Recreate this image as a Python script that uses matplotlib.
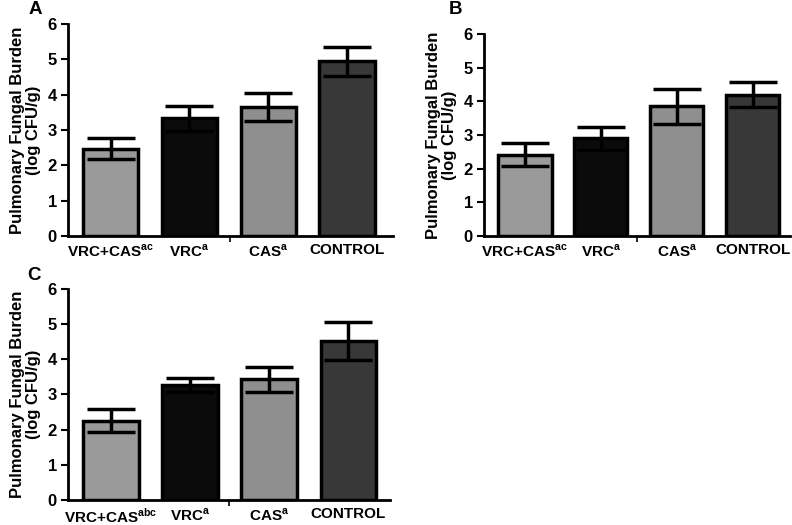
import numpy as np
import matplotlib
matplotlib.use("Agg")
import matplotlib.pyplot as plt

plt.rcParams['font.family'] = ['Liberation Sans', 'DejaVu Sans']
plt.rcParams['font.weight'] = 'bold'
plt.rcParams['mathtext.fontset'] = 'custom'
plt.rcParams['mathtext.bf'] = 'Liberation Sans:bold'
plt.rcParams['mathtext.rm'] = 'Liberation Sans:bold'

groups_ab = [r'VRC+CAS$^{\mathbf{ac}}$', r'VRC$^{\mathbf{a}}$', r'CAS$^{\mathbf{a}}$', 'CONTROL']
groups_c = [r'VRC+CAS$^{\mathbf{abc}}$', r'VRC$^{\mathbf{a}}$', r'CAS$^{\mathbf{a}}$', 'CONTROL']
colors = ['#9a9a9a', '#0b0b0b', '#8f8f8f', '#383838']

mean_a = [2.47, 3.33, 3.65, 4.95]
err_a = [0.30, 0.36, 0.39, 0.41]
mean_b = [2.42, 2.90, 3.85, 4.20]
err_b = [0.33, 0.33, 0.53, 0.38]
mean_c = [2.25, 3.27, 3.43, 4.52]
err_c = [0.33, 0.21, 0.35, 0.54]

fig = plt.figure(figsize=(7.92, 5.25), dpi=100)

panels = [
    ('A', mean_a, err_a, groups_ab, [0.0859, 0.5505, 0.410, 0.4035], (-0.54, 3.58), (35, 9)),
    ('B', mean_b, err_b, groups_ab, [0.611, 0.5505, 0.3865, 0.3845], (-0.54, 3.49), (455, 10)),
    ('C', mean_c, err_c, groups_c, [0.0859, 0.0476, 0.406, 0.402], (-0.54, 3.52), (34, 276)),
]

for letter, means, errs, labels, rect, xl, lpos in panels:
    ax = fig.add_axes(rect)
    x = np.arange(len(means))
    ax.bar(x, means, width=0.7, color=colors, edgecolor='black', linewidth=2.5, zorder=2)
    ax.errorbar(x, means, yerr=errs, fmt='none', ecolor='black', elinewidth=2.5,
                capsize=17, capthick=2.5, zorder=3)
    ax.set_xlim(*xl)
    ax.set_ylim(0, 6)
    ax.set_yticks(range(7))
    ax.set_xticks(x)
    ax.set_xticklabels(labels, fontsize=11, fontweight='bold')
    ax.tick_params(axis='x', which='major', length=0, pad=5)
    ax.set_xticks([(xl[0] + xl[1]) / 2], minor=True)
    ax.tick_params(axis='x', which='minor', length=4, width=1.2, direction='out')
    ax.tick_params(axis='y', length=5, width=1.5, labelsize=12, pad=3)
    for t in ax.get_yticklabels():
        t.set_fontweight('bold')
    for s in ['top', 'right']:
        ax.spines[s].set_visible(False)
    for s in ['left', 'bottom']:
        ax.spines[s].set_linewidth(2)
    ax.set_ylabel('Pulmonary Fungal Burden\n(log CFU/g)', fontsize=12,
                  fontweight='bold', labelpad=5, linespacing=1.05)
    fig.text(lpos[0] / 792, 1 - lpos[1] / 525, letter, fontsize=13.5, fontweight='bold',
             ha='center', va='center')

fig.savefig('out.png', dpi=100)
